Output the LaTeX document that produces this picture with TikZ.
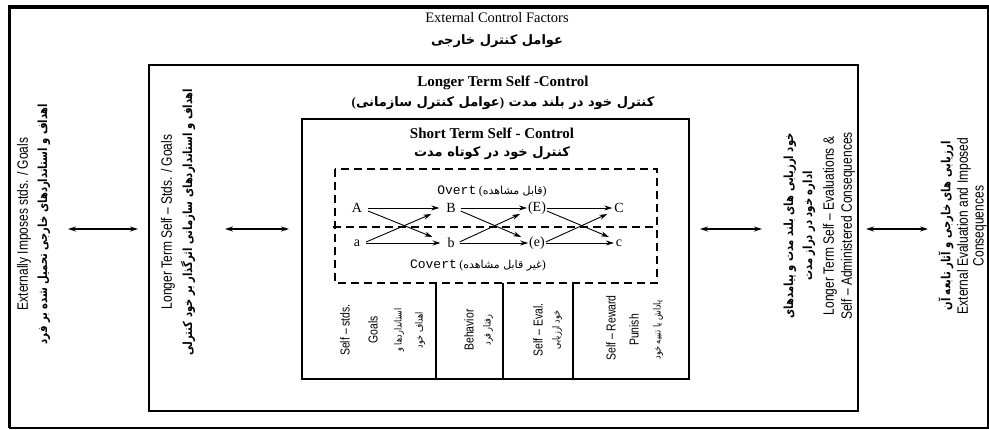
\documentclass[tikz,border=0pt]{standalone}
\usepackage{fontspec}
\setmainfont{Liberation Serif}
\newfontfamily\narrowsans[FakeStretch=0.8]{Liberation Sans}
\newfontfamily\fa[Script=Arabic]{DejaVu Sans}
\newfontfamily\fanarrow[Script=Arabic,FakeStretch=0.8]{DejaVu Sans}
\newfontfamily\monof{Liberation Mono}
\TeXXeTstate=1
\usetikzlibrary{arrows.meta}
\newcommand{\faR}[1]{\beginR #1\endR}
\newcommand{\lpar}{{\rmfamily\bfseries(}}
\newcommand{\rpar}{{\rmfamily\bfseries)}}
\begin{document}
\begin{tikzpicture}[x=1pt,y=-1pt,
  txt/.style={inner sep=0pt, outer sep=0pt, anchor=center},
  rot/.style={txt, rotate=90},
  box/.style={draw=black, line width=1.1pt},
  dbl/.style={{Stealth[length=8pt,width=5pt]}-{Stealth[length=8pt,width=5pt]}, line width=1.1pt},
  arr/.style={-{Stealth[length=8pt,width=5pt]}, line width=0.9pt},
  dsh/.style={draw=black, line width=1.5pt, dash pattern=on 8pt off 5pt},
  letter/.style={inner sep=1pt, outer sep=0pt, font=\fontsize{14}{16}\selectfont},
  sideen/.style={rot, font=\narrowsans\fontsize{15}{17}\selectfont},
  sidefa/.style={rot, font=\fanarrow\bfseries\fontsize{12.5}{14}\selectfont},
  colen/.style={rot, font=\narrowsans\fontsize{13}{15}\selectfont},
  colfa/.style={rot, font=\fanarrow\fontsize{10}{12}\selectfont},
  titlefa/.style={txt, font=\fa\bfseries\fontsize{13}{16}\selectfont},
]
\useasboundingbox (0,0) rectangle (989,430);
\fill[white] (0,0) rectangle (989,430);
% outer frame
\draw[line width=1.2pt] (988,7) -- (988,428) -- (9,428);
\draw[line width=3.5pt] (9.5,428) -- (9.5,7) -- (988.5,7);
% boxes
\draw[box] (149,65) rectangle (858,411);
\draw[box] (302,119) rectangle (689,379);
\draw[dsh] (335,169) rectangle (657,283);
\draw[dsh] (333,227) -- (658,227);
\draw[box] (436,283) -- (436,379);
\draw[box] (503,283) -- (503,379);
\draw[box] (573,283) -- (573,379);
% titles
\node[txt, font=\fontsize{14.5}{16}\selectfont] (ecf) at (497,18) {External Control Factors};
\node[titlefa] (ecffa) at (497,41) {\faR{عوامل کنترل خارجی}};
\node[txt, font=\bfseries\fontsize{15}{17}\selectfont] (ltc) at (503,83) {Longer Term Self -Control};
\node[titlefa] (ltcfa) at (503,103) {\lpar\faR{عوامل کنترل سازمانی}\rpar~\faR{کنترل خود در بلند مدت}};
\node[txt, font=\bfseries\fontsize{15}{17}\selectfont] (stc) at (492,133) {Short Term Self - Control};
\node[titlefa] (stcfa) at (492,153) {\faR{کنترل خود در کوتاه مدت}};
% overt / covert
\node[txt] (overt) at (492,191) {{\monof\fontsize{13}{15}\selectfont Overt} {\fontsize{12}{14}\selectfont(}{\fa\fontsize{11}{13}\selectfont\faR{قابل مشاهده}}{\fontsize{12}{14}\selectfont)}};
\node[txt] (covert) at (478,265) {{\monof\fontsize{13}{15}\selectfont Covert} {\fontsize{12}{14}\selectfont(}{\fa\fontsize{11}{13}\selectfont\faR{غیر قابل مشاهده}}{\fontsize{12}{14}\selectfont)}};
% letters
\node[letter] (A) at (357,208) {A};
\node[letter] (B) at (451,208) {B};
\node[letter] (E) at (537,208) {(E)};
\node[letter] (C) at (619,208) {C};
\node[letter] (a) at (357,243) {a};
\node[letter] (b) at (451,243) {b};
\node[letter] (e) at (537,243) {(e)};
\node[letter] (c) at (619,243) {c};
% arrows group 1
\draw[arr] ([xshift=5pt]A.east) -- ([xshift=-6pt]B.west);
\draw[arr] ([xshift=5pt]a.east) -- ([xshift=-6pt]b.west);
\draw[arr] ([xshift=5pt,yshift=-3pt]A.east) -- ([xshift=-14pt,yshift=6pt]b.west);
\draw[arr] ([xshift=5pt,yshift=1pt]a.east) -- ([xshift=-14pt,yshift=-6pt]B.west);
% group 2
\draw[arr] ([xshift=4pt]B.east) -- (E.west);
\draw[arr] ([xshift=4pt]b.east) -- (e.west);
\draw[arr] ([xshift=4pt,yshift=-3pt]B.east) -- ([xshift=-7pt,yshift=6pt]e.west);
\draw[arr] ([xshift=4pt,yshift=1pt]b.east) -- ([xshift=-7pt,yshift=-6pt]E.west);
% group 3
\draw[arr] (E.east) -- ([xshift=-1pt]C.west);
\draw[arr] (e.east) -- ([xshift=-1pt]c.west);
\draw[arr] ([yshift=-3pt]E.east) -- ([xshift=-6pt,yshift=6pt]c.west);
\draw[arr] ([yshift=1pt]e.east) -- ([xshift=-6pt,yshift=-6pt]C.west);
% column texts
\node[colen] (c1a) at (345,330) {Self – stds.};
\node[colen] (c1b) at (373,330) {Goals};
\node[colfa] (c1c) at (399,330) {\faR{استانداردها و}};
\node[colfa] (c1d) at (420,330) {\faR{اهداف خود}};
\node[colen] (c2a) at (469,330) {Behavior};
\node[colfa] (c2b) at (488,330) {\faR{رفتار فرد}};
\node[colen] (c3a) at (538,330) {Self – Eval.};
\node[colfa] (c3b) at (557,330) {\faR{خود ارزیابی}};
\node[colen] (c4a) at (611,328) {Self – Reward};
\node[colen] (c4b) at (634,330) {Punish};
\node[colfa] (c4c) at (658,330) {\faR{پاداش یا تنبیه خود}};
% side texts left
\node[sideen] (l1) at (24,224) {Externally Imposes stds. / Goals};
\node[sidefa] (l2) at (44,224) {\faR{اهداف و استانداردهای خارجی تحمیل شده بر فرد}};
\coordinate (la1) at (68,229); \coordinate (la2) at (138,229);
\draw[dbl] (la1) -- (la2);
\node[sideen] (m1) at (168,222) {Longer Term Self – Stds. / Goals};
\node[sidefa] (m2) at (188,222) {\faR{اهداف و استانداردهای سازمانی اثرگذار بر خود کنترلی}};
\coordinate (ma1) at (225,229); \coordinate (ma2) at (289,229);
\draw[dbl] (ma1) -- (ma2);
% side texts right
\coordinate (ra1) at (700,229); \coordinate (ra2) at (762,229);
\draw[dbl] (ra1) -- (ra2);
\node[sidefa] (r1) at (790,226) {\faR{خود ارزیابی های بلند مدت و پیامدهای}};
\node[sidefa] (r2) at (809,226) {\faR{اداره خود در دراز مدت}};
\node[sideen] (r3) at (830,226) {Longer Term Self – Evaluations \&};
\node[sideen] (r4) at (848,226) {Self – Administered Consequences};
\coordinate (oa1) at (866,229); \coordinate (oa2) at (928,229);
\draw[dbl] (oa1) -- (oa2);
\node[sidefa] (o1) at (946,226) {\faR{ارزیابی های خارجی و آثار تابعه آن}};
\node[sideen] (o2) at (964,226) {External Evaluation and Imposed};
\node[sideen] (o3) at (980,226) {Consequences};
\end{tikzpicture}
\end{document}
